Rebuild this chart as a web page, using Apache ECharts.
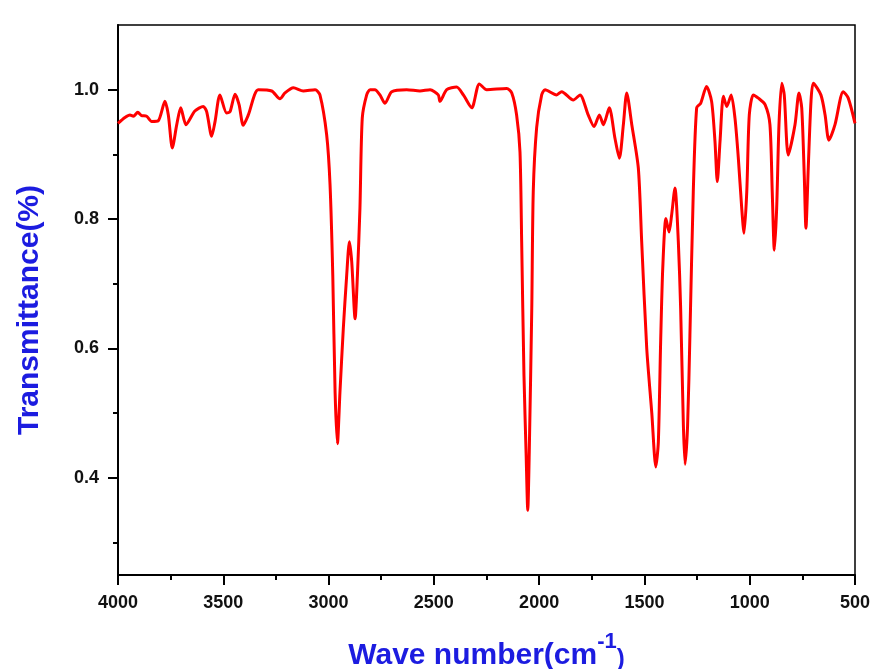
<!DOCTYPE html>
<html>
<head>
<meta charset="utf-8">
<script src="https://cdn.jsdelivr.net/npm/echarts@6/dist/echarts.min.js"></script>
<style>
html,body{margin:0;padding:0;background:#fff;}
#chart{width:873px;height:669px;}
</style>
</head>
<body>
<div id="chart"></div>
<script>
// Wavenumber (cm^-1)
var waveNumbers = [
  4000, 3967, 3943, 3927, 3906, 3888, 3864, 3840, 3809, 3777, 3761, 3742, 3721, 3702, 3677, 3635, 3595, 3579, 3555, 3539,
  3516, 3484, 3468, 3444, 3425, 3405, 3381, 3334, 3270, 3231, 3207, 3167, 3120, 3064, 3041, 3009, 2993, 2980, 2969, 2958,
  2946, 2930, 2914, 2901, 2890, 2874, 2863, 2851, 2840, 2819, 2803, 2780, 2756, 2732, 2700, 2629, 2566, 2518, 2479, 2471,
  2439, 2392, 2360, 2320, 2284, 2249, 2154, 2130, 2107, 2091, 2083, 2072, 2062, 2054, 2047, 2035, 2028, 2012, 1988, 1972,
  1917, 1893, 1838, 1806, 1767, 1739, 1714, 1695, 1667, 1640, 1619, 1600, 1584, 1560, 1529, 1513, 1489, 1465, 1446,
  1434, 1423, 1413, 1398, 1383, 1371, 1355, 1339, 1328, 1315, 1307, 1295, 1284, 1268, 1252, 1233, 1205, 1181, 1165, 1154,
  1141, 1125, 1109, 1088, 1070, 1054, 1038, 1027, 1014, 1002, 983, 959, 927, 904, 893, 883, 872, 861, 848, 836,
  817, 785, 766, 753, 741, 733, 722, 709, 698, 662, 642, 624, 595, 556, 532, 500
];
// Transmittance
var transmittance = [
  0.948, 0.957, 0.961, 0.959, 0.965, 0.960, 0.959, 0.951, 0.952, 0.982, 0.961, 0.910, 0.946, 0.972, 0.946, 0.967, 0.974, 0.966, 0.928, 0.951,
  0.992, 0.964, 0.966, 0.993, 0.977, 0.945, 0.961, 1.000, 0.998, 0.986, 0.995, 1.003, 0.998, 1.000, 0.992, 0.930, 0.853, 0.713, 0.532, 0.453,
  0.532, 0.631, 0.713, 0.765, 0.734, 0.646, 0.713, 0.817, 0.956, 0.992, 1.000, 1.000, 0.992, 0.979, 0.997, 1.000, 0.998, 1.000, 0.992, 0.982,
  1.000, 1.004, 0.992, 0.972, 1.009, 1.000, 1.002, 0.995, 0.961, 0.904, 0.765, 0.558, 0.439, 0.350, 0.439, 0.662, 0.842, 0.941, 0.992, 1.000,
  0.992, 0.997, 0.984, 0.992, 0.961, 0.943, 0.961, 0.946, 0.972, 0.925, 0.894, 0.946, 0.995, 0.946, 0.879, 0.765, 0.600, 0.500, 0.417,
  0.455, 0.610, 0.724, 0.801, 0.780, 0.806, 0.848, 0.765, 0.662, 0.481, 0.421, 0.481, 0.620, 0.842, 0.972, 0.979, 1.005, 0.982, 0.920, 0.858,
  0.920, 0.990, 0.974, 0.992, 0.956, 0.894, 0.817, 0.778, 0.842, 0.961, 0.992, 0.987, 0.977, 0.946, 0.842, 0.752, 0.817, 0.946, 1.010, 0.992,
  0.899, 0.946, 0.995, 0.972, 0.868, 0.786, 0.879, 0.982, 1.010, 0.992, 0.961, 0.922, 0.946, 0.997, 0.987, 0.948
];
var yLabelTicks = [0.4, 0.6, 0.8, 1.0];
var yMinorTicks = [0.3, 0.5, 0.7, 0.9];

var points = waveNumbers.map(function (w, i) { return [w, transmittance[i]]; });

var chart = echarts.init(document.getElementById('chart'));
var font = '"Liberation Sans", Arial, sans-serif';
var blue = '#1c1ce0';
chart.setOption({
  backgroundColor: '#ffffff',
  animation: false,
  grid: {
    left: 118, right: 18, top: 25, bottom: 94,
    outerBoundsMode: 'none', containLabel: false,
    show: true, borderColor: '#000', borderWidth: 1.5, backgroundColor: 'transparent'
  },
  xAxis: {
    type: 'value', min: 500, max: 4000, interval: 500, inverse: true,
    name: '{a|Wave number(cm}{s|-1}{b|)}',
    nameLocation: 'middle', nameGap: 56,
    nameTextStyle: {
      rich: {
        a: { fontFamily: font, fontWeight: 'bold', fontSize: 30, color: blue, verticalAlign: 'bottom', lineHeight: 40 },
        s: { fontFamily: font, fontWeight: 'bold', fontSize: 22, color: blue, verticalAlign: 'top', lineHeight: 40, padding: [0, 0, 16, 0] },
        b: { fontFamily: font, fontWeight: 'bold', fontSize: 24, color: blue, verticalAlign: 'bottom', lineHeight: 40, padding: [10, 0, 0, 0] }
      }
    },
    axisLine: { show: true, lineStyle: { color: '#000', width: 2 } },
    axisTick: { show: true, inside: false, length: 10, lineStyle: { color: '#000', width: 2 } },
    minorTick: { show: true, splitNumber: 2, length: 5, lineStyle: { color: '#000', width: 2 } },
    axisLabel: {
      margin: 19, color: '#111', fontFamily: font, fontWeight: 'bold', fontSize: 18,
      formatter: function (v) { return String(v); }
    },
    splitLine: { show: false }, minorSplitLine: { show: false }
  },
  yAxis: [{
    type: 'value', min: 0.25, max: 1.1, position: 'left',
    name: 'Transmittance(%)', nameLocation: 'middle', nameGap: 73,
    nameTextStyle: { fontFamily: font, fontWeight: 'bold', fontSize: 30, color: blue, padding: [0, 20, 0, 0] },
    axisLine: { show: true, lineStyle: { color: '#000', width: 2 } },
    axisTick: { show: true, length: 10, customValues: yLabelTicks, lineStyle: { color: '#000', width: 2 } },
    axisLabel: {
      customValues: yLabelTicks, margin: 19, color: '#111', fontFamily: font, fontWeight: 'bold', fontSize: 18,
      formatter: function (v) { return v.toFixed(1); }
    },
    splitLine: { show: false }
  }, {
    type: 'value', min: 0.25, max: 1.1, position: 'left', offset: 0,
    axisLine: { show: false },
    axisTick: { show: true, length: 5, customValues: yMinorTicks, lineStyle: { color: '#000', width: 2 } },
    axisLabel: { show: false },
    splitLine: { show: false }
  }],
  series: [{
    type: 'line', data: points, yAxisIndex: 0,
    showSymbol: false, smooth: 0.25,
    lineStyle: { color: '#ff0000', width: 3 }
  }]
});
</script>
</body>
</html>
